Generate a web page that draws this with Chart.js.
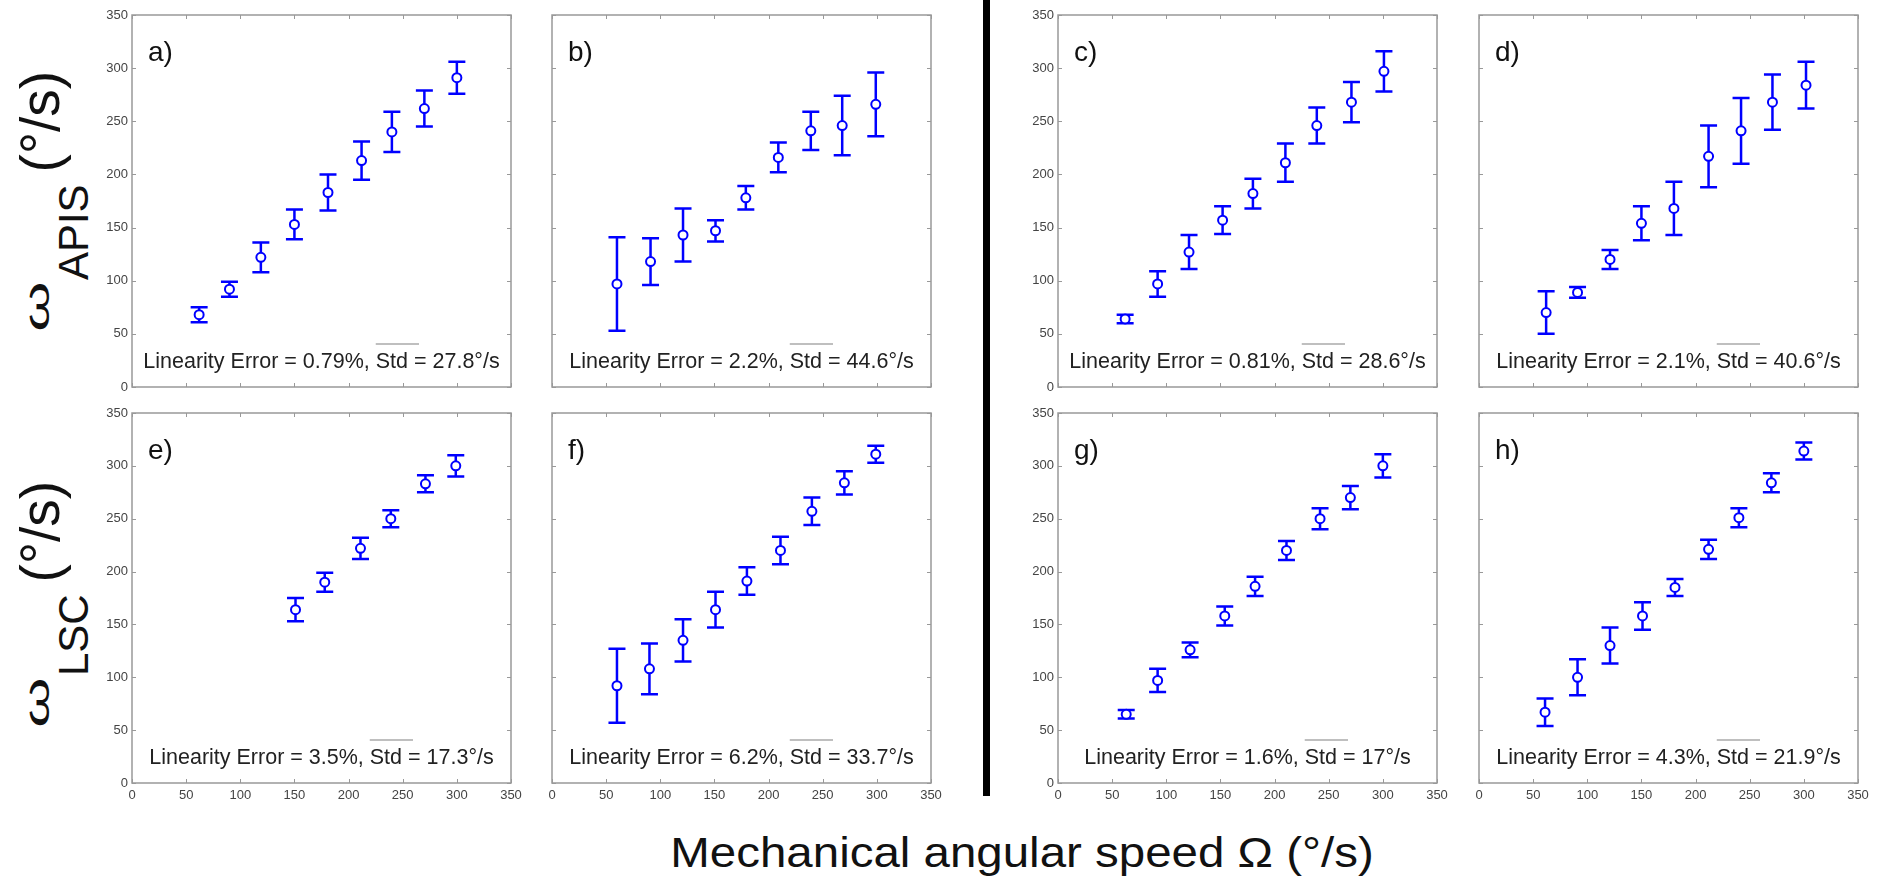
<!DOCTYPE html>
<html>
<head>
<meta charset="utf-8">
<script src="https://cdn.jsdelivr.net/npm/chart.js@4/dist/chart.umd.min.js"></script>
<style>
  body { margin: 0; width: 1879px; height: 878px; background: #fff; position: relative; overflow: hidden; font-family: "Liberation Sans", Arial, sans-serif; color: #111; }
  canvas { position: absolute; }
  .ylab { position: absolute; width: 340px; height: 55px; line-height: 55px; font-size: 55px; text-align: center; white-space: nowrap; transform: rotate(-90deg); transform-origin: 50% 50%; }
  .ylab .om { display: inline-block; font-size: 46px; line-height: 46px; margin: 0 8px 0 6px; transform: translate(0, -6px) scale(1.4, 0.75); }
  .ylab .sub { font-size: 42px; position: relative; top: 29px; margin-right: 12px; }
  #xtitle { position: absolute; left: 522px; width: 1000px; top: 832px; font-size: 42px; line-height: 42px; text-align: center; white-space: nowrap; transform: scaleX(1.13); }
  #divider { position: absolute; left: 983px; top: 0; width: 7px; height: 796px; background: #000; }
</style>
</head>
<body>
<div class="ylab" style="left:-130px; top:173px;"><span class="om">ω</span><span class="sub">APIS</span>(°/s)</div>
<div class="ylab" style="left:-130px; top:576px;"><span class="om">ω</span><span class="sub">LSC</span>(°/s)</div>
<div id="xtitle">Mechanical angular speed Ω (°/s)</div>
<div id="divider"></div>

<script>
// mechanical speed (x), mean measured speed (y) and std (error bar) for each panel
const speedA = [62, 90, 119, 150, 181, 212, 240, 270, 300]
const meanA = [68, 92, 122, 153, 183, 213, 240, 262, 291]
const stdA = [7, 7, 14, 14, 17, 18, 19, 17, 15]

const speedB = [60, 91, 121, 151, 179, 209, 239, 268, 299]
const meanB = [97, 118, 143, 147, 178, 216, 241, 246, 266]
const stdB = [44, 22, 25, 10, 11, 14, 18, 28, 30]

const speedC = [62, 92, 121, 152, 180, 210, 239, 271, 301]
const meanC = [64, 97, 127, 157, 182, 211, 246, 268, 297]
const stdC = [4, 12, 16, 13, 14, 18, 17, 19, 19]

const speedD = [62, 91, 121, 150, 180, 212, 242, 271, 302]
const meanD = [70, 89, 120, 154, 168, 217, 241, 268, 284]
const stdD = [20, 5, 9, 16, 25, 29, 31, 26, 22]

const speedE = [151, 178, 211, 239, 271, 299]
const meanE = [164, 190, 222, 250, 283, 300]
const stdE = [11, 9, 10, 8, 8, 10]

const speedF = [60, 90, 121, 151, 180, 211, 240, 270, 299]
const meanF = [92, 108, 135, 164, 191, 220, 257, 284, 311]
const stdF = [35, 24, 20, 17, 13, 13, 13, 11, 8]

const speedG = [63, 92, 122, 154, 182, 211, 242, 270, 300]
const meanG = [65, 97, 126, 158, 186, 220, 250, 270, 300]
const stdG = [4, 11, 7, 9, 9, 9, 10, 11, 11]

const speedH = [61, 91, 121, 151, 181, 212, 240, 270, 300]
const meanH = [67, 100, 130, 158, 185, 221, 251, 284, 314]
const stdH = [13, 17, 17, 13, 8, 9, 9, 9, 8]

const panelLetters = ['a)', 'b)', 'c)', 'd)', 'e)', 'f)', 'g)', 'h)']
const linearityErr = ['0.79', '2.2', '0.81', '2.1', '3.5', '6.2', '1.6', '4.3']
const stdMean = ['27.8', '44.6', '28.6', '40.6', '17.3', '33.7', '17', '21.9']

const axisMin = 0
const axisMax = 350
const axisStep = 50

// layout of the plot boxes (pixels)
const colLeft = [132, 552, 1058, 1479]
const boxW = 379
const rowTop = [15, 413]
const rowH = [372, 370]
const padL = 45, padT = 10, padR = 22, padB = 30

const blue = '#0000ff'
const tickFont = {family: '"Liberation Sans", Arial, sans-serif', size: 13}

// draws the vertical error bars with caps under the circles
const errorBars = {
    id: 'errorBars',
    beforeDatasetsDraw (chart) {
        const ctx = chart.ctx
        const xs = chart.scales.x
        const ys = chart.scales.y
        const ds = chart.data.datasets[0]
        ctx.save()
        ctx.strokeStyle = blue
        ctx.lineWidth = 2.5
        ds.data.forEach((p, i) => {
            const px = xs.getPixelForValue(p.x)
            const hi = ys.getPixelForValue(p.y + ds.errors[i])
            const lo = ys.getPixelForValue(p.y - ds.errors[i])
            ctx.beginPath()
            ctx.moveTo(px, hi); ctx.lineTo(px, lo)
            ctx.moveTo(px - 8.5, hi); ctx.lineTo(px + 8.5, hi)
            ctx.moveTo(px - 8.5, lo); ctx.lineTo(px + 8.5, lo)
            ctx.stroke()
        })
        ctx.restore()
    }
}

// matlab style box with inward ticks, panel letter and the linearity text
const panelDeco = {
    id: 'panelDeco',
    afterDraw (chart, args, opts) {
        const ctx = chart.ctx
        const a = chart.chartArea
        ctx.save()
        ctx.strokeStyle = '#999'
        ctx.lineWidth = 1
        ctx.beginPath()
        chart.scales.x.ticks.forEach(t => {
            const px = Math.round(chart.scales.x.getPixelForValue(t.value)) + 0.5
            ctx.moveTo(px, a.bottom); ctx.lineTo(px, a.bottom - 4)
            ctx.moveTo(px, a.top); ctx.lineTo(px, a.top + 4)
        })
        chart.scales.y.ticks.forEach(t => {
            const py = Math.round(chart.scales.y.getPixelForValue(t.value)) + 0.5
            ctx.moveTo(a.left, py); ctx.lineTo(a.left + 4, py)
            ctx.moveTo(a.right, py); ctx.lineTo(a.right - 4, py)
        })
        ctx.stroke()
        ctx.lineWidth = 1.5
        ctx.strokeRect(a.left, a.top, a.right - a.left, a.bottom - a.top)

        ctx.fillStyle = '#111'
        ctx.font = '28px "Liberation Sans", Arial, sans-serif'
        ctx.textBaseline = 'alphabetic'
        ctx.fillText(opts.letter, a.left + 16, a.top + 46)

        // "Linearity Error = x%, Std = y°/s" with a bar over Std
        ctx.font = '21.5px "Liberation Sans", Arial, sans-serif'
        ctx.fillStyle = '#222'
        const pre = `Linearity Error = ${opts.linErr}%, `
        const mid = 'Std'
        const post = ` = ${opts.std}°/s`
        const w1 = ctx.measureText(pre).width
        const w2 = ctx.measureText(mid).width
        const w3 = ctx.measureText(post).width
        const x0 = (a.left + a.right) / 2 - (w1 + w2 + w3) / 2
        const base = a.bottom - 19
        ctx.fillText(pre, x0, base)
        ctx.fillText(mid, x0 + w1, base)
        ctx.fillText(post, x0 + w1 + w2, base)
        ctx.strokeStyle = '#aaa'
        ctx.lineWidth = 1.5
        ctx.beginPath()
        ctx.moveTo(x0 + w1, base - 24)
        ctx.lineTo(x0 + w1 + w2 + 11, base - 24)
        ctx.stroke()
        ctx.restore()
    }
}

function makePanel (idx, xs, ys, errs) {
    const col = idx % 4
    const row = Math.floor(idx / 4)
    const canvas = document.createElement('canvas')
    canvas.width = boxW + padL + padR
    canvas.height = rowH[row] + padT + padB
    canvas.style.left = (colLeft[col] - padL) + 'px'
    canvas.style.top = (rowTop[row] - padT) + 'px'
    document.body.appendChild(canvas)

    new Chart(canvas, {
        type: 'scatter',
        data: {
            datasets: [{
                data: xs.map((x, i) => ({x: x, y: ys[i]})),
                errors: errs,
                pointRadius: 4.5,
                pointBorderWidth: 2,
                pointBorderColor: blue,
                pointBackgroundColor: '#fff',
                showLine: false
            }]
        },
        options: {
            responsive: false,
            animation: false,
            devicePixelRatio: 1,
            events: [],
            layout: {padding: {left: 0, top: padT, right: padR, bottom: 0}},
            plugins: {
                legend: {display: false},
                tooltip: {enabled: false},
                panelDeco: {letter: panelLetters[idx], linErr: linearityErr[idx], std: stdMean[idx]}
            },
            scales: {
                x: {
                    type: 'linear', min: axisMin, max: axisMax,
                    grid: {display: false, drawTicks: false},
                    border: {display: false},
                    ticks: {display: row === 1, stepSize: axisStep, padding: 5, font: tickFont, color: '#444', autoSkip: false, maxRotation: 0},
                    afterFit: s => { s.height = padB; s.paddingLeft = 0; s.paddingRight = 0 }
                },
                y: {
                    type: 'linear', min: axisMin, max: axisMax,
                    grid: {display: false, drawTicks: false},
                    border: {display: false},
                    ticks: {display: col % 2 === 0, stepSize: axisStep, padding: 4, font: tickFont, color: '#444'},
                    afterFit: s => { s.width = padL; s.paddingTop = 0; s.paddingBottom = 0 }
                }
            }
        },
        plugins: [errorBars, panelDeco]
    })
}

makePanel(0, speedA, meanA, stdA)
makePanel(1, speedB, meanB, stdB)
makePanel(2, speedC, meanC, stdC)
makePanel(3, speedD, meanD, stdD)
makePanel(4, speedE, meanE, stdE)
makePanel(5, speedF, meanF, stdF)
makePanel(6, speedG, meanG, stdG)
makePanel(7, speedH, meanH, stdH)
</script>
</body>
</html>
